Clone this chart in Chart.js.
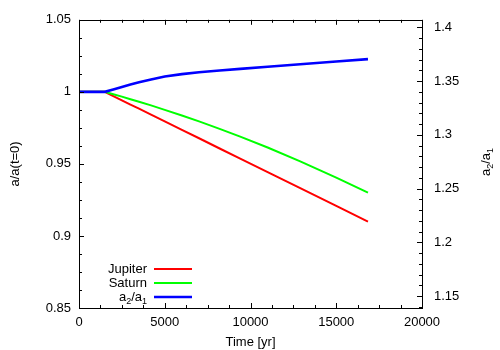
<!DOCTYPE html>
<html>
<head>
<meta charset="utf-8">
<script src="https://cdn.jsdelivr.net/npm/chart.js@4"></script>
<style>
  html, body { margin: 0; padding: 0; background: #fff; }
  #wrap { width: 500px; height: 350px; }
</style>
</head>
<body>
<div id="wrap"><canvas id="orbitChart" width="500" height="350"></canvas></div>
<script>
// --- data ---
const times   = [0, 1500, 2000, 2500, 3000, 3500, 4200, 5000, 6000, 7000, 8200, 9400, 11000, 12900, 15000, 16850];
const jupiter = [1.0, 1.0, 0.9971, 0.9941, 0.9912, 0.9883, 0.9842, 0.9795, 0.9736, 0.9678, 0.9607, 0.9537, 0.9443, 0.9332, 0.9209, 0.9100];
const saturn  = [1.0, 1.0, 0.9983, 0.9967, 0.9949, 0.9931, 0.9906, 0.9875, 0.9836, 0.9795, 0.9743, 0.9689, 0.9614, 0.9518, 0.9405, 0.9300];
const ratio   = [1.3400, 1.3400, 1.3423, 1.3446, 1.3469, 1.3490, 1.3515, 1.3542, 1.3565, 1.3583, 1.3599, 1.3614, 1.3634, 1.3657, 1.3682, 1.3704];

const xTicks = [0, 5000, 10000, 15000, 20000];
const yTicks = [0.85, 0.9, 0.95, 1, 1.05];
const y2Ticks = [1.15, 1.2, 1.25, 1.3, 1.35, 1.4];

const FONT = "'Liberation Sans', Arial, Helvetica, sans-serif";
Chart.defaults.font.family = FONT;
Chart.defaults.font.size = 13;
Chart.defaults.color = '#000';

const pts = vals => vals.map((v, i) => ({ x: times[i], y: v }));
const fmt = v => String(Number(v.toFixed(4)));

// draw "a2/a1" style text with real subscripts
function drawSubLabel(ctx, x, y, align) {
  const parts = [['a', 0], ['2', 1], ['/a', 0], ['1', 1]];
  const big = '13px ' + FONT, small = '9px ' + FONT;
  let w = 0;
  parts.forEach(p => { ctx.font = p[1] ? small : big; w += ctx.measureText(p[0]).width; });
  let cx = align === 'right' ? x - w : (align === 'center' ? x - w / 2 : x);
  ctx.textAlign = 'left';
  ctx.textBaseline = 'alphabetic';
  parts.forEach(p => {
    ctx.font = p[1] ? small : big;
    ctx.fillText(p[0], cx, y + (p[1] ? 3 : 0));
    cx += ctx.measureText(p[0]).width;
  });
}

// gnuplot-like frame, inward ticks, legend and right title
const frame = {
  id: 'frame',
  afterDraw(chart) {
    const { ctx, chartArea: a, scales } = chart;
    ctx.save();
    ctx.strokeStyle = '#000';
    ctx.lineWidth = 1;
    ctx.strokeRect(Math.round(a.left) + 0.5, Math.round(a.top) + 0.5,
                   Math.round(a.right - a.left), Math.round(a.bottom - a.top));

    const tick = (x1, y1, x2, y2) => {
      ctx.beginPath(); ctx.moveTo(x1, y1); ctx.lineTo(x2, y2); ctx.stroke();
    };
    // x ticks bottom and top (mirrored)
    for (let v = 0; v <= 20000; v += 1250) {
      const px = Math.round(scales.x.getPixelForValue(v)) + 0.5;
      const len = v % 5000 === 0 ? 5 : 3;
      tick(px, a.bottom, px, a.bottom - len);
      tick(px, a.top, px, a.top + len);
    }
    // left y ticks
    for (let i = 0; i <= 16; i++) {
      const v = 0.85 + i * 0.0125;
      const py = Math.round(scales.y.getPixelForValue(v)) + 0.5;
      const len = i % 4 === 0 ? 5 : 3;
      tick(a.left, py, a.left + len, py);
    }
    // right y2 ticks
    for (let i = 0; i <= 26; i++) {
      const v = 1.14 + i * 0.01;
      if (v > scales.y2.max) break;
      const py = Math.round(scales.y2.getPixelForValue(v)) + 0.5;
      const len = (i - 1) % 5 === 0 ? 5 : 3;
      tick(a.right, py, a.right - len, py);
    }

    // legend, bottom-left inside the plot
    const rows = [269, 283, 297];
    chart.data.datasets.forEach((ds, i) => {
      const y = rows[i];
      ctx.fillStyle = '#000';
      if (ds.label === 'a2/a1') {
        drawSubLabel(ctx, 147, y + 4, 'right');
      } else {
        ctx.font = '13px ' + FONT;
        ctx.textAlign = 'right';
        ctx.textBaseline = 'middle';
        ctx.fillText(ds.label, 147, y);
      }
      ctx.strokeStyle = ds.borderColor;
      ctx.lineWidth = ds.borderWidth;
      tick(154, y, 192, y);
    });

    // right axis title, rotated like the left one
    ctx.fillStyle = '#000';
    ctx.translate(490, 162);
    ctx.rotate(-Math.PI / 2);
    drawSubLabel(ctx, 0, 0, 'center');
    ctx.restore();
  }
};

new Chart(document.getElementById('orbitChart'), {
  type: 'line',
  data: {
    datasets: [
      { label: 'Jupiter', data: pts(jupiter), yAxisID: 'y', borderColor: '#ff0000', borderWidth: 2, order: 2 },
      { label: 'Saturn', data: pts(saturn), yAxisID: 'y', borderColor: '#00ff00', borderWidth: 2, order: 1 },
      { label: 'a2/a1', data: pts(ratio), yAxisID: 'y2', borderColor: '#0000ff', borderWidth: 2.6, order: 0 }
    ]
  },
  options: {
    responsive: false,
    animation: false,
    devicePixelRatio: 1,
    elements: { point: { radius: 0 }, line: { tension: 0, fill: false } },
    layout: { padding: { top: 17, left: 0, right: 0, bottom: 0 } },
    plugins: { legend: { display: false }, tooltip: { enabled: false } },
    scales: {
      x: {
        type: 'linear', min: 0, max: 20000,
        grid: { display: false, drawTicks: false },
        border: { display: false },
        afterBuildTicks: s => { s.ticks = xTicks.map(v => ({ value: v })); },
        afterFit: s => { s.height = 42; },
        ticks: { padding: 7, maxRotation: 0, callback: v => String(v) },
        title: { display: true, text: 'Time [yr]', padding: { top: 0, bottom: 0 } }
      },
      y: {
        position: 'left', min: 0.85, max: 1.05,
        grid: { display: false, drawTicks: false },
        border: { display: false },
        afterBuildTicks: s => { s.ticks = yTicks.map(v => ({ value: v })); },
        afterFit: s => { s.width = 79; },
        ticks: { padding: 8, callback: v => fmt(v) },
        title: { display: true, text: 'a/a(t=0)', padding: { top: 8, bottom: 0 } }
      },
      y2: {
        position: 'right', min: 0.85 * 1.34, max: 1.05 * 1.34,
        grid: { display: false, drawTicks: false },
        border: { display: false },
        afterBuildTicks: s => { s.ticks = y2Ticks.map(v => ({ value: v })); },
        afterFit: s => { s.width = 78; },
        ticks: { padding: 12, callback: v => fmt(v) }
      }
    }
  },
  plugins: [frame]
});
</script>
</body>
</html>
